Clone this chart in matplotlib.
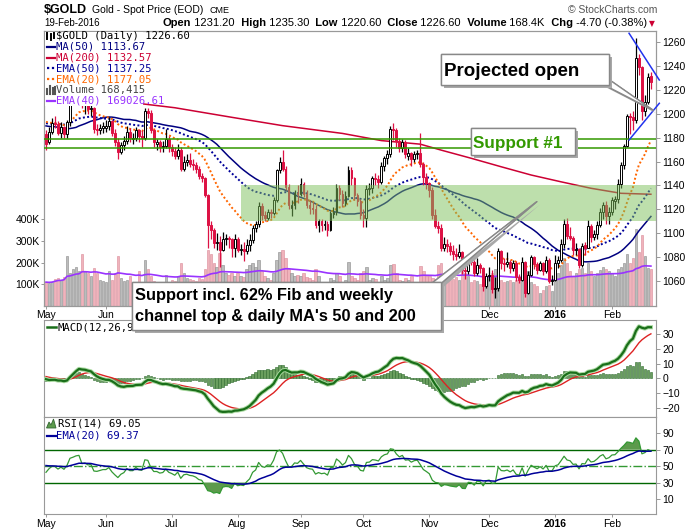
import numpy as np
import pandas as pd
import matplotlib
matplotlib.use("Agg")
import matplotlib.pyplot as plt
from matplotlib.patches import Rectangle, Polygon, ConnectionPatch
from matplotlib.lines import Line2D
import matplotlib.patheffects as pe

plt.rcParams['font.family'] = ['Liberation Sans', 'DejaVu Sans']

# ---------------- data ----------------
# closes before the visible window (used only to warm up the moving averages / MACD / RSI)
warmup_closes = [1208, 1209, 1211, 1205, 1199, 1198, 1210, 1206, 1213,
                 1208, 1203, 1200, 1198, 1167, 1163, 1161, 1150, 1152, 1155, 1154, 1148, 1151, 1168, 1183,
                 1189, 1192, 1196, 1204, 1199, 1186, 1183,
                 1202, 1201, 1219, 1210, 1201, 1194, 1207, 1197, 1193, 1200, 1204, 1204, 1194, 1185, 1187,
                 1193, 1178, 1201, 1211, 1209, 1183]

opens = [
    1183, 1176, 1185, 1192, 1191, 1184, 1189, 1183, 1193, 1216, 1220, 1225, 1227, 1207, 1209, 1204, 1205, 1187, 1186, 1188,
    1188, 1190, 1194, 1184, 1176, 1168, 1174, 1177, 1185, 1179, 1180, 1186, 1181, 1180, 1202, 1201, 1186, 1175, 1176, 1172, 1173, 1179,
    1172, 1169, 1165, 1170, 1154, 1160, 1161, 1158, 1157, 1154, 1148, 1146, 1132, 1107, 1103, 1092, 1093, 1086, 1095, 1096, 1095, 1088,
    1095, 1086, 1087, 1085, 1090, 1094, 1104, 1108, 1123, 1115, 1113, 1118, 1117, 1128, 1153, 1160, 1154, 1139, 1121, 1124, 1134,
    1133, 1141, 1133, 1124, 1121, 1120, 1107, 1110, 1107, 1108, 1103, 1116, 1118, 1138, 1133, 1125, 1131, 1153, 1146, 1132, 1127,
    1115, 1113, 1137, 1138, 1146, 1145, 1143, 1156, 1163, 1166, 1187, 1186, 1177, 1171, 1176, 1165, 1167, 1162, 1166, 1167, 1158, 1147,
    1142, 1136, 1115, 1106, 1104, 1088, 1091, 1089, 1085, 1083, 1081, 1084, 1069, 1068, 1077, 1076, 1067, 1073, 1071, 1056,
    1064, 1065, 1053, 1054, 1085, 1075, 1074, 1076, 1071, 1075, 1063, 1061, 1076, 1050, 1065, 1080, 1074, 1069, 1075, 1068, 1078, 1060,
    1061, 1075, 1078, 1091, 1108, 1098, 1096, 1086, 1087, 1073, 1090, 1088, 1106, 1097, 1099, 1107, 1118, 1124, 1114,
    1118, 1127, 1129, 1141, 1157, 1173, 1198, 1197, 1195, 1247, 1239, 1202, 1210, 1231.2]
highs = [
    1186, 1189, 1196, 1198, 1194, 1193, 1190, 1195, 1218, 1225, 1228, 1232, 1228, 1213, 1210, 1208, 1206, 1191, 1191, 1193,
    1195, 1197, 1195, 1187, 1180, 1176, 1181, 1190, 1188, 1184, 1189, 1187, 1186, 1205, 1205, 1203, 1187, 1179, 1178, 1177, 1187, 1181,
    1175, 1172, 1175, 1172, 1165, 1166, 1167, 1162, 1160, 1156, 1150, 1147, 1133, 1110, 1104, 1100, 1098, 1101, 1099, 1098, 1096, 1099,
    1097, 1091, 1093, 1095, 1099, 1107, 1110, 1126, 1125, 1119, 1120, 1120, 1130, 1154, 1164, 1170, 1156, 1141, 1128, 1136, 1140,
    1146, 1143, 1136, 1128, 1126, 1124, 1112, 1112, 1111, 1110, 1119, 1122, 1141, 1140, 1136, 1135, 1156, 1155, 1147, 1134, 1129,
    1120, 1140, 1142, 1148, 1150, 1149, 1160, 1165, 1170, 1190, 1192, 1188, 1180, 1179, 1178, 1171, 1168, 1169, 1170, 1184, 1160, 1150,
    1143, 1139, 1120, 1110, 1108, 1097, 1095, 1093, 1090, 1088, 1091, 1085, 1074, 1082, 1081, 1078, 1079, 1075, 1072, 1067,
    1072, 1069, 1063, 1088, 1086, 1079, 1084, 1078, 1078, 1077, 1066, 1080, 1077, 1068, 1082, 1081, 1076, 1077, 1076, 1081, 1079, 1065,
    1082, 1081, 1095, 1112, 1113, 1105, 1098, 1092, 1088, 1092, 1093, 1111, 1108, 1103, 1110, 1121, 1126, 1127, 1122,
    1130, 1131, 1145, 1160, 1175, 1200, 1201, 1202, 1263, 1250, 1240, 1216, 1234, 1235.3]
lows = [
    1170, 1175, 1183, 1188, 1182, 1180, 1180, 1180, 1190, 1214, 1216, 1218, 1205, 1200, 1200, 1198, 1184, 1182, 1183, 1184,
    1185, 1186, 1181, 1173, 1162, 1166, 1170, 1175, 1176, 1175, 1177, 1176, 1172, 1178, 1196, 1184, 1172, 1170, 1168, 1168, 1171, 1168,
    1165, 1162, 1162, 1152, 1152, 1156, 1155, 1153, 1150, 1145, 1143, 1130, 1088, 1095, 1088, 1086, 1072, 1085, 1090, 1088, 1080, 1080,
    1084, 1082, 1077, 1083, 1085, 1092, 1101, 1105, 1111, 1110, 1111, 1113, 1115, 1126, 1150, 1152, 1136, 1120, 1114, 1120, 1125,
    1131, 1130, 1121, 1116, 1116, 1104, 1101, 1102, 1103, 1098, 1102, 1113, 1115, 1128, 1122, 1123, 1130, 1140, 1128, 1123, 1112,
    1105, 1105, 1132, 1134, 1140, 1138, 1141, 1152, 1158, 1164, 1178, 1172, 1168, 1168, 1163, 1161, 1156, 1160, 1162, 1155, 1140, 1137,
    1130, 1112, 1104, 1100, 1085, 1085, 1084, 1082, 1078, 1078, 1079, 1066, 1062, 1066, 1073, 1064, 1065, 1067, 1052, 1054,
    1060, 1050, 1046, 1052, 1070, 1068, 1072, 1067, 1068, 1060, 1058, 1060, 1047, 1049, 1064, 1070, 1066, 1068, 1065, 1067, 1058, 1057,
    1060, 1071, 1076, 1088, 1095, 1094, 1082, 1082, 1071, 1072, 1082, 1088, 1093, 1094, 1095, 1105, 1112, 1108, 1108,
    1115, 1120, 1125, 1138, 1154, 1172, 1183, 1186, 1192, 1232, 1195, 1198, 1208, 1220.6]
closes = [
    1175, 1185, 1192, 1191, 1184, 1189, 1183, 1193, 1216, 1220, 1225, 1227, 1207, 1209, 1204, 1205, 1187, 1186, 1188, 1190,
    1190, 1194, 1184, 1176, 1168, 1174, 1177, 1185, 1180, 1180, 1186, 1181, 1180, 1202, 1201, 1186, 1176, 1176, 1172, 1173, 1179, 1172,
    1169, 1165, 1170, 1154, 1160, 1161, 1158, 1157, 1154, 1148, 1146, 1132, 1107, 1103, 1092, 1093, 1086, 1095, 1096, 1095, 1088, 1095,
    1086, 1087, 1085, 1090, 1094, 1104, 1108, 1123, 1115, 1113, 1118, 1117, 1128, 1153, 1160, 1154, 1139, 1124, 1124, 1134, 1133,
    1141, 1133, 1124, 1121, 1120, 1107, 1110, 1107, 1108, 1103, 1117, 1118, 1138, 1133, 1125, 1131, 1153, 1146, 1132, 1127, 1115,
    1113, 1137, 1138, 1146, 1145, 1143, 1156, 1163, 1166, 1187, 1186, 1177, 1171, 1176, 1166, 1167, 1162, 1166, 1167, 1158, 1147, 1142,
    1136, 1115, 1106, 1104, 1088, 1091, 1089, 1085, 1083, 1081, 1084, 1069, 1068, 1077, 1076, 1067, 1073, 1071, 1056, 1064,
    1065, 1053, 1054, 1085, 1075, 1074, 1076, 1071, 1075, 1063, 1061, 1076, 1050, 1065, 1080, 1074, 1069, 1075, 1068, 1078, 1060, 1061,
    1075, 1078, 1091, 1108, 1098, 1096, 1086, 1087, 1073, 1089, 1088, 1106, 1097, 1099, 1107, 1118, 1124, 1114, 1118,
    1128, 1129, 1141, 1157, 1173, 1198, 1197, 1195, 1247, 1239, 1202, 1210, 1231, 1226.6]
volumes_k = [
    110, 108, 112, 125, 130, 120, 135, 230, 150, 170, 180, 160, 240, 160, 150, 140, 175, 150, 120, 115,
    110, 160, 120, 150, 230, 130, 115, 120, 140, 110, 100, 160, 105, 210, 170, 140, 115, 105, 95, 100, 145, 110,
    120, 115, 140, 200, 150, 130, 125, 120, 115, 130, 125, 170, 260, 240, 200, 180, 245, 190, 150, 145, 150, 140,
    150, 140, 135, 170, 190, 200, 180, 210, 160, 140, 130, 120, 150, 210, 250, 260, 220, 170, 150, 140, 145,
    140, 150, 135, 130, 120, 170, 140, 110, 100, 105, 130, 120, 150, 140, 110, 120, 205, 140, 130, 120, 150,
    160, 180, 120, 130, 125, 110, 140, 120, 130, 190, 195, 150, 120, 115, 130, 120, 140, 110, 105, 185, 160, 140,
    140, 130, 125, 190, 200, 150, 130, 120, 125, 135, 120, 160, 150, 140, 110, 120, 115, 100, 90, 120,
    130, 150, 170, 180, 120, 110, 115, 120, 110, 120, 125, 140, 170, 160, 110, 100, 90, 60, 75, 90, 95, 70,
    170, 150, 190, 220, 200, 160, 140, 150, 170, 175, 150, 200, 160, 140, 150, 165, 180, 170, 160,
    150, 140, 170, 180, 200, 240, 200, 220, 355, 250, 325, 230, 175, 168.415]

# MA(200): bar index -> value
ma200_idx = [0, 15, 33, 43, 62, 79, 99, 112, 125, 132, 142, 152, 162, 172, 182, 192, 202]
ma200_val = [1222, 1214, 1208, 1205, 1197, 1190, 1183.5, 1177.5, 1174.5, 1169.5, 1162.7, 1155.6, 1148.7, 1143, 1137.6, 1133.4, 1132.6]

holidays = ['2015-05-25', '2015-07-03', '2015-09-07', '2015-11-26', '2015-12-25',
            '2016-01-01', '2016-01-18', '2016-02-15']

support1 = [1179, 1171]
zone_low, zone_high, zone_start = 1110, 1140, '2015-08-04'
legend_rows = ["$GOLD (Daily) 1226.60", "MA(50) 1113.67", "MA(200) 1132.57", "EMA(50) 1137.25",
               "EMA(20) 1177.05", "Volume 168,415", "EMA(40) 169026.61"]

# ---------------- derived series ----------------
dates = pd.bdate_range('2015-05-01', '2016-02-19', freq='C', holidays=holidays)
n = min(len(dates), len(closes), len(opens), len(highs), len(lows), len(volumes_k))
dates = dates[:n]
o = np.array(opens[:n], float); h = np.array(highs[:n], float)
l = np.array(lows[:n], float); c = np.array(closes[:n], float)
vol = np.array(volumes_k[:n], float) * 1000
x = np.arange(n)

allc = pd.Series(warmup_closes + list(c))
k = len(warmup_closes)
ma50 = allc.rolling(50, min_periods=1).mean().values[k:]
ema50 = allc.ewm(span=50, adjust=True).mean().values[k:]
ema20 = allc.ewm(span=20, adjust=True).mean().values[k:]
macd_s = allc.ewm(span=12, adjust=False).mean() - allc.ewm(span=26, adjust=False).mean()
sig_s = macd_s.ewm(span=9, adjust=False).mean()
macd = macd_s.values[k:]; sig = sig_s.values[k:]; hist = macd - sig
d = allc.diff()
ag = d.clip(lower=0).ewm(alpha=1/14, adjust=False).mean()
al = (-d.clip(upper=0)).ewm(alpha=1/14, adjust=False).mean()
rsi_s = 100 - 100 / (1 + ag / al)
rsi_e = rsi_s.ewm(span=20, adjust=False).mean()
rsi = rsi_s.values[k:]; rsi_ema = rsi_e.values[k:]
vol_ema = pd.Series(vol).ewm(span=40, adjust=True).mean().values

prevc = np.r_[warmup_closes[-1], c[:-1]]
up = c >= prevc
RED = '#dd1144'
ccol = np.where(up, '#000000', RED)
cface = np.where(c >= o, '#ffffff', ccol)

mpos = [i for i in range(n) if i == 0 or dates[i].month != dates[i - 1].month]
mlab = ['2016' if (dates[i].month == 1) else dates[i].strftime('%b') for i in mpos]

# ---------------- figure layout ----------------
W, H = 700, 530
fig = plt.figure(figsize=(7, 5.3), dpi=100)
fig.patch.set_facecolor('white')
def fx(p): return p / W
def fy(p): return 1 - p / H

L, R = 44, 655.7
TOP, PB, MT, MB, RB = 31, 306, 320, 417, 514
ax = fig.add_axes([fx(L), fy(PB), (R - L) / W, (PB - TOP) / H])
axv = ax.twinx()
axm = fig.add_axes([fx(L), fy(MB), (R - L) / W, (MB - MT) / H])
axr = fig.add_axes([fx(L), fy(RB), (R - L) / W, (RB - MB) / H])
axv.set_zorder(1); ax.set_zorder(2); ax.patch.set_visible(False)
axv.patch.set_visible(True); axv.patch.set_facecolor('white')
axm.set_zorder(0); axr.set_zorder(0)

XL = (-0.67, 203.6)
SP = '#999999'
for a in (ax, axv, axm, axr):
    a.set_xlim(*XL)
    for s in a.spines.values():
        s.set_color(SP); s.set_linewidth(0.8)
    a.tick_params(colors='#888888', labelcolor='black', labelsize=7.5, length=3, width=0.6)

# volume
axv.bar(x, vol, width=0.8, color=np.where(up, '#bcbcbc', '#f0b3bb'),
        edgecolor=np.where(up, '#8a8a8a', '#d98a98'), linewidth=0.4, zorder=1)
axv.plot(x, vol_ema, color='#9933ff', lw=1.2, zorder=2)
axv.set_ylim(0, 1267e3)
axv.yaxis.tick_left()
axv.set_yticks([100e3, 200e3, 300e3, 400e3])
axv.set_yticklabels(['100K', '200K', '300K', '400K'])
axv.tick_params(axis='y', length=2, pad=1)

# price
ax.yaxis.tick_right()
ax.set_ylim(1039.1, 1269.2)
ax.set_yticks(np.arange(1060, 1261, 20))
ax.tick_params(axis='y', pad=2)
ax.plot(ma200_idx, ma200_val, color='#cc0033', lw=1.1, zorder=3)
ax.plot(x, ma50, color='#000080', lw=1.1, zorder=3)
ax.plot(x, ema50, color='#000099', lw=1.4, ls=(0, (1, 1.2)), zorder=3)
ax.plot(x, ema20, color='#ff6600', lw=1.4, ls=(0, (1, 1.2)), zorder=3)
ax.vlines(x, l, h, colors=ccol, lw=0.9, zorder=4)
ax.bar(x, np.maximum(np.abs(c - o), 0.5), bottom=np.minimum(o, c), width=0.62,
       color=cface, edgecolor=ccol, linewidth=0.7, zorder=5)
for lv in support1:
    ax.axhline(lv, color='#339900', lw=1.1, zorder=6)
zs = int(np.searchsorted(dates, pd.Timestamp(zone_start)))
ax.add_patch(Rectangle((zs, zone_low), XL[1] - zs, zone_high - zone_low,
                       facecolor='#7dc05a', alpha=0.5, edgecolor='none', zorder=7))
# triangle trend lines
ax.plot([194.7, 204.8], [1267.3, 1228.2], color='#2233ee', lw=1.1, zorder=8, clip_on=False)
ax.plot([194.7, 204.8], [1178.0, 1208.7], color='#2233ee', lw=1.1, zorder=8, clip_on=False)

# the "Support incl." call-out hides the price panel's month labels between ~130 and ~445 px
scale = (R - L) / (XL[1] - XL[0])
price_lab = [lab if not (125 < L + (p - XL[0]) * scale < 445) else '' for p, lab in zip(mpos, mlab)]

for a in (ax, axm, axr):
    a.set_xticks(mpos)
ax.set_xticklabels(price_lab)
axr.set_xticklabels(mlab)
axm.set_xticklabels([])
for a in (ax, axr):
    for t in a.get_xticklabels():
        if t.get_text() == '2016':
            t.set_fontweight('bold')
ax.tick_params(axis='x', length=2, pad=1)
axr.tick_params(axis='x', length=2, pad=1.5)
axm.tick_params(axis='x', length=2)

# MACD
axm.bar(x, hist, width=0.8, color='#6a9e5e', edgecolor='#2e6b2e', linewidth=0.4, zorder=2)
axm.plot(x, sig, color='#dd2222', lw=1.0, zorder=3)
axm.plot(x, macd, color='#1a6e1a', lw=1.6, zorder=4,
         path_effects=[pe.Stroke(linewidth=3.0, foreground='#a9d9a0'), pe.Normal()])
axm.set_ylim(-26.4, 39.7)
axm.yaxis.tick_right()
axm.set_yticks([-20, -10, 0, 10, 20, 30])
axm.tick_params(axis='y', pad=2)

# RSI
axr.fill_between(x, rsi, 70, where=rsi > 70, interpolate=True, color='#5c9a4c', lw=0, zorder=2)
axr.fill_between(x, rsi, 30, where=rsi < 30, interpolate=True, color='#5c9a4c', lw=0, zorder=2)
axr.axhline(70, color='#006600', lw=1.0, zorder=1)
axr.axhline(30, color='#006600', lw=1.0, zorder=1)
axr.axhline(50, color='#339933', lw=1.0, ls='-.', zorder=1)
axr.plot(x, rsi, color='#339933', lw=0.9, zorder=3)
axr.plot(x, rsi_ema, color='#000099', lw=1.1, zorder=4)
axr.set_ylim(-7.9, 109.6)
axr.yaxis.tick_right()
axr.set_yticks([10, 30, 50, 70, 90])
axr.tick_params(axis='y', pad=2)

# ---------------- texts ----------------
renderer = fig.canvas.get_renderer()
def rich(xp, yp, pieces, size, family, align='left', zorder=6):
    arts = [fig.text(0, fy(yp), s, fontsize=size, color=col, family=family,
                     fontweight='bold' if b else 'normal', va='center', zorder=zorder)
            for s, col, b in pieces]
    ws = [t.get_window_extent(renderer).width for t in arts]
    cur = xp - sum(ws) if align == 'right' else xp
    for t, w in zip(arts, ws):
        t.set_x(fx(cur)); cur += w

fig.text(fx(44), fy(10), '$GOLD', fontsize=9, fontweight='bold', va='center')
fig.text(fx(92), fy(10), 'Gold - Spot Price (EOD)', fontsize=7.5, va='center')
fig.text(fx(210), fy(10.5), 'CME', fontsize=6.5, va='center')
fig.text(fx(44), fy(23), '19-Feb-2016', fontsize=7, va='center')
fig.text(fx(657), fy(10), '\u00a9 StockCharts.com', fontsize=7.5, color='#555555', va='center', ha='right')
rich(647, 23, [('Open', 'black', True), (' 1231.20', 'black', False), ('  High', 'black', True),
               (' 1235.30', 'black', False), ('  Low', 'black', True), (' 1220.60', 'black', False),
               ('  Close', 'black', True), (' 1226.60', 'black', False), ('  Volume', 'black', True),
               (' 168.4K', 'black', False), ('  Chg', 'black', True), (' -4.70 (-0.38%)', 'black', False)],
     8, 'Liberation Sans', align='right')
fig.text(fx(652), fy(24), '\u25bc', fontsize=5.5, color='#cc0033', va='center', ha='center', family='DejaVu Sans')

# price legend
fig.add_artist(Rectangle((fx(44.8), fy(106)), (142.5 - 44.8) / W, (106 - 31.8) / H,
                         transform=fig.transFigure, facecolor='white', edgecolor='none', zorder=5))
lcols = ['black', '#000080', '#cc0033', '#000099', '#ff6600', '#444444', '#9933ff']
MONO = 'DejaVu Sans Mono'
for i, (txt, col) in enumerate(zip(legend_rows, lcols)):
    yc = 36 + 10.8 * i
    fig.text(fx(56.5), fy(yc), txt, fontsize=7.6, family=MONO, color=col, va='center', zorder=6)
    if i in (1, 2, 6):
        fig.add_artist(Line2D([fx(46.5), fx(55.5)], [fy(yc), fy(yc)], color=col, lw=1.6, zorder=6))
    elif i in (3, 4):
        fig.add_artist(Line2D([fx(46.5), fx(55.5)], [fy(yc), fy(yc)], color=col, lw=1.6,
                              ls=(0, (1, 1.2)), zorder=6))
    elif i == 0:
        for xx, y0, y1 in [(47.5, yc - 3.5, yc + 3), (50.5, yc - 2, yc + 3.5), (53.5, yc - 3, yc + 2)]:
            fig.add_artist(Line2D([fx(xx), fx(xx)], [fy(y0), fy(y1)], color='black', lw=1.4, zorder=6))
    elif i == 5:
        for xx, y0 in [(47.5, yc - 1), (50, yc - 4), (52.5, yc - 2.5), (55, yc - 3.5)]:
            fig.add_artist(Line2D([fx(xx), fx(xx)], [fy(y0), fy(yc + 3.5)], color='#555555', lw=1.5, zorder=6))

# MACD legend
fig.add_artist(Line2D([fx(46.5), fx(56)], [fy(327), fy(327)], color='#1a6e1a', lw=1.8, zorder=6))
rich(58, 327, [('MACD(12,26,9)', 'black', False), (' %.3f' % macd[-1], '#1a6e1a', False),
               (', %.3f' % sig[-1], '#cc0000', False), (', %.3f' % hist[-1], '#1a6e1a', False)],
     7.6, MONO)

# RSI legend
fig.add_artist(Polygon([[fx(46.5), fy(428)], [fx(49), fy(422)], [fx(51), fy(425)], [fx(53.5), fy(419)],
                        [fx(56), fy(428)]], closed=True, transform=fig.transFigure,
                       facecolor='#5c9a4c', edgecolor='#336633', lw=0.6, zorder=6))
fig.text(fx(58), fy(424), 'RSI(14) 69.05', fontsize=7.6, family=MONO, color='black', va='center', zorder=6)
fig.add_artist(Line2D([fx(46.5), fx(56)], [fy(436), fy(436)], color='#000099', lw=1.6, zorder=6))
fig.text(fx(56.5), fy(436), 'EMA(20) 69.37', fontsize=7.6, family=MONO, color='#000099', va='center', zorder=6)

# ---------------- call-outs ----------------
shadow = [pe.withSimplePatchShadow(offset=(2.2, -2.2), shadow_rgbFace='#a8a8a8', alpha=1.0), pe.Normal()]

def box(x0, y0, x1, y1):
    r = Rectangle((fx(x0), fy(y1)), (x1 - x0) / W, (y1 - y0) / H, transform=fig.transFigure,
                  facecolor='white', edgecolor='#888888', lw=1.0, zorder=9)
    r.set_path_effects(shadow)
    fig.add_artist(r)

def wedge(px, py, xd, yd, tw=0.5):
    cp = ConnectionPatch(xyA=(fx(px), fy(py)), coordsA='figure fraction', xyB=(xd, yd), coordsB='data',
                         axesB=ax, arrowstyle='wedge,tail_width=%s,shrink_factor=0.5' % tw,
                         mutation_scale=10, facecolor='white', edgecolor='#888888', lw=1.0, zorder=8)
    cp.set_path_effects(shadow)
    fig.add_artist(cp)

# Projected open
wedge(603, 80, 202.7, 1203.0, 0.55)
box(440.7, 54.3, 609, 85)
fig.text(fx(443.5), fy(76.5), 'Projected open', fontsize=13.5, fontweight='bold', va='baseline', zorder=10)

# Support #1
box(470.7, 128.3, 575, 155)
fig.text(fx(473.3), fy(148.3), 'Support #1', fontsize=12.3, fontweight='bold', color='#339900',
         va='baseline', zorder=10)

# Support incl. ...
wedge(432, 287, 163.9, 1126.4, 0.45)
box(132, 281.5, 440.5, 329.5)
fig.text(fx(135), fy(300), 'Support incl. 62% Fib and weekly', fontsize=11.8, fontweight='bold',
         va='baseline', zorder=10)
fig.text(fx(135), fy(320.5), "channel top & daily MA's 50 and 200", fontsize=11.8, fontweight='bold',
         va='baseline', zorder=10)

fig.savefig('out.png', dpi=100)
